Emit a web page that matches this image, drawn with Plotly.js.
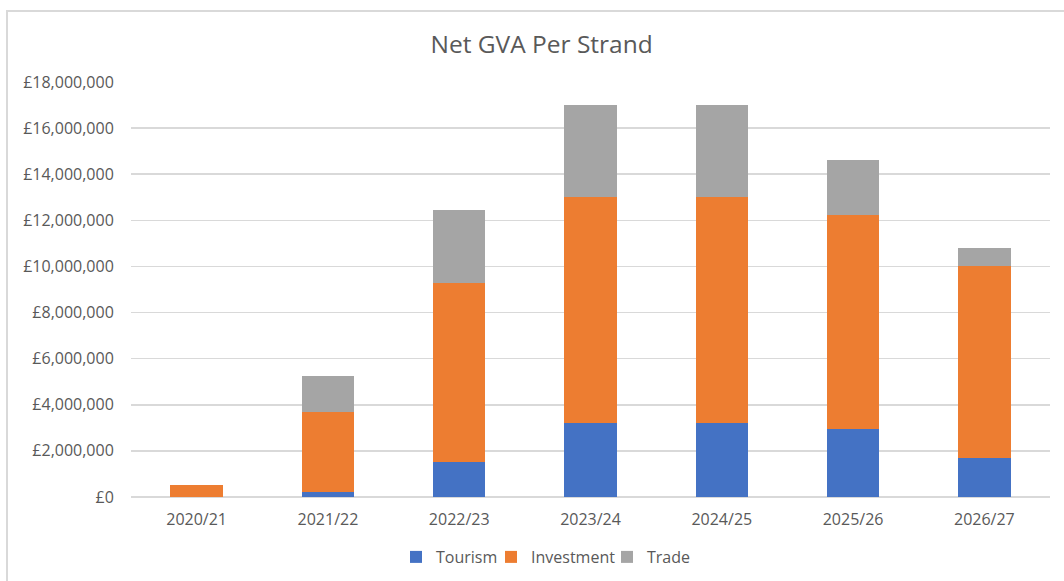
<!DOCTYPE html>
<html>
<head>
<meta charset="utf-8">
<script src="https://cdn.plot.ly/plotly-3.0.1.min.js"></script>
<style>
html,body{margin:0;padding:0;background:#fff;}
#wrap{position:relative;width:1064px;height:581px;overflow:hidden;}
#chart{width:1064px;height:581px;}
#frame{position:absolute;left:6px;top:10px;width:1100px;height:620px;border:2px solid #d9d9d9;pointer-events:none;box-sizing:border-box;}
</style>
</head>
<body>
<div id="wrap">
<div id="chart"></div>
<div id="frame"></div>
</div>
<script>
const categories = ["2020/21","2021/22","2022/23","2023/24","2024/25","2025/26","2026/27"];
const tourism    = [0, 200000, 1500000, 3200000, 3200000, 2950000, 1700000];
const investment = [500000, 3500000, 7800000, 9800000, 9800000, 9300000, 8300000];
const trade      = [0, 1550000, 3150000, 4000000, 4000000, 2350000, 800000];
const seriesNames = ["Tourism","Investment","Trade"];
const seriesColors = ["#4472C4","#ED7D31","#A5A5A5"];
const legendWidths = [50, 71, 43];

const font = "Open Sans, sans-serif";
const data = [tourism, investment, trade].map((vals, i) => ({
  type: "bar",
  name: seriesNames[i],
  x: categories,
  y: vals,
  legendwidth: legendWidths[i],
  marker: {color: seriesColors[i], line: {width: 0}},
  hoverinfo: "x+y+name"
}));

const layout = {
  width: 1064, height: 581,
  barmode: "stack",
  bargap: 0.6,
  paper_bgcolor: "#ffffff",
  plot_bgcolor: "#ffffff",
  margin: {l: 131, r: 14, t: 82, b: 83.5},
  font: {family: font, color: "#595959", size: 16},
  title: {
    text: "Net GVA Per Strand",
    font: {family: font, size: 24.5, color: "#595959"},
    x: 0.509, xref: "container", xanchor: "center",
    y: 1 - 44/581, yref: "container", yanchor: "middle"
  },
  xaxis: {
    type: "category",
    showgrid: false,
    zeroline: false,
    showline: false,
    ticks: "outside", ticklen: 8, tickcolor: "rgba(0,0,0,0)",
    tickfont: {family: font, size: 16, color: "#595959"}
  },
  yaxis: {
    range: [0, 18000000],
    dtick: 2000000,
    tickprefix: "£",
    tickformat: ",d",
    showgrid: true,
    gridcolor: "#d9d9d9",
    gridwidth: 1.5,
    zeroline: true,
    zerolinecolor: "#d9d9d9",
    zerolinewidth: 1.5,
    showline: false,
    ticks: "outside", ticklen: 13, tickcolor: "rgba(0,0,0,0)",
    tickfont: {family: font, size: 16, color: "#595959"}
  },
  legend: {
    orientation: "h",
    xref: "container", yref: "container",
    x: 396/1064, xanchor: "left",
    y: 1 - 557/581, yanchor: "middle",
    font: {family: font, size: 16, color: "#595959"},
    itemwidth: 30,
    traceorder: "normal"
  },
  showlegend: true
};

Plotly.newPlot("chart", data, layout, {displayModeBar: false, staticPlot: true});
</script>
</body>
</html>
